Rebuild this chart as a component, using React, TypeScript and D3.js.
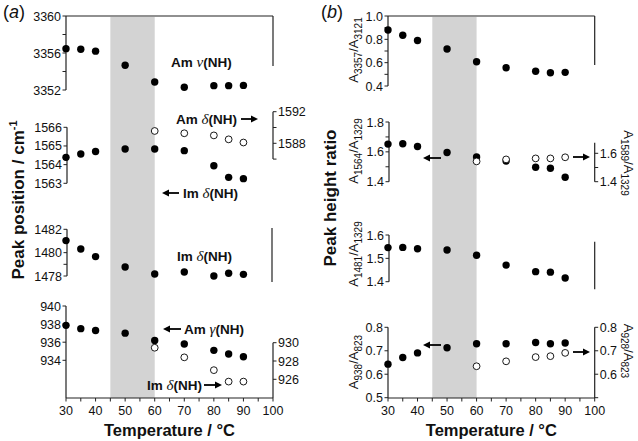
import React from "react";
import * as d3 from "d3";

// ---------- data ----------
const temps = [30, 35, 40, 50, 60, 70, 80, 85, 90];
const tempsOpen = [60, 70, 80, 85, 90];

// panel (a)
const amNuNH = [3356.47, 3356.4, 3356.2, 3354.67, 3352.86, 3352.3, 3352.47, 3352.47, 3352.5];
const imDeltaNH1564 = [1564.39, 1564.57, 1564.7, 1564.84, 1564.84, 1564.75, 1563.94, 1563.32, 1563.25];
const amDeltaNH1589 = [1589.56, 1589.27, 1589.0, 1588.5, 1588.1];
const imDeltaNH1480 = [1481.03, 1480.31, 1479.66, 1478.77, 1478.17, 1478.34, 1478.0, 1478.23, 1478.14];
const amGammaNH = [937.86, 937.5, 937.3, 937.0, 936.2, 935.8, 935.1, 934.7, 934.4];
const imDeltaNH928 = [929.45, 928.4, 927.0, 925.75, 925.75];

// panel (b)
const ratio3357 = [0.88, 0.835, 0.79, 0.717, 0.608, 0.557, 0.526, 0.514, 0.517];
const ratio1564 = [1.652, 1.654, 1.636, 1.596, 1.566, 1.539, 1.497, 1.49, 1.43];
const ratio1589 = [1.543, 1.557, 1.564, 1.564, 1.572];
const ratio1481 = [1.546, 1.547, 1.541, 1.536, 1.513, 1.471, 1.443, 1.441, 1.416];
const ratio938 = [0.643, 0.671, 0.691, 0.713, 0.73, 0.73, 0.735, 0.73, 0.733];
const ratio928 = [0.634, 0.655, 0.673, 0.677, 0.691];

const xTicks = [30, 35, 40, 45, 50, 55, 60, 65, 70, 75, 80, 85, 90, 95, 100];
const xTickLabels = [30, 40, 50, 60, 70, 80, 90, 100];
const shadeRange = [45, 60];

const FONT = "'Liberation Sans', Arial, Helvetica, sans-serif";
const SERIF = "'Liberation Serif', 'Times New Roman', serif";
const AX = "#222";

// ---------- scales ----------
const xA = d3.scaleLinear().domain([30, 100]).range([66, 273]);
const xB = d3.scaleLinear().domain([30, 100]).range([388, 594.7]);

const yA1 = d3.scaleLinear().domain([3352, 3360]).range([90, 16]);
const yA2L = d3.scaleLinear().domain([1563, 1566]).range([183.3, 127.3]);
const yA2R = d3.scaleLinear().domain([1588, 1592]).range([143.3, 111.7]);
const yA3 = d3.scaleLinear().domain([1478, 1482]).range([276, 229.3]);
const yA4L = d3.scaleLinear().domain([934, 940]).range([360.3, 306]);
const yA4R = d3.scaleLinear().domain([926, 930]).range([379.3, 342.7]);

const yB1 = d3.scaleLinear().domain([0.4, 1.0]).range([86, 16]);
const yB2L = d3.scaleLinear().domain([1.4, 1.8]).range([181.7, 122]);
const yB2R = d3.scaleLinear().domain([1.4, 1.6]).range([181.7, 153.3]);
const yB3 = d3.scaleLinear().domain([1.4, 1.6]).range([281.7, 235]);
const yB4 = d3.scaleLinear().domain([0.5, 0.8]).range([397.7, 327.3]);

const BOTTOM = 398;

type Scale = d3.ScaleLinear<number, number>;

function VAxis(props: {
  x: number;
  scale: Scale;
  from: number;
  to: number;
  ticks: number[];
  labels: number[];
  side: "left" | "right";
  fmt?: (v: number) => string;
  y1?: number;
  y2?: number;
}) {
  const { x, scale, from, to, ticks, labels, side } = props;
  const fmt = props.fmt || ((v: number) => String(v));
  const dir = side === "left" ? -1 : 1;
  const y1 = props.y1 !== undefined ? props.y1 : scale(from);
  const y2 = props.y2 !== undefined ? props.y2 : scale(to);
  return (
    <g>
      <line x1={x} x2={x} y1={y1} y2={y2} stroke={AX} strokeWidth={1.2} />
      {ticks.map((t) => (
        <line key={"t" + t} x1={x} x2={x + dir * 3.5} y1={scale(t)} y2={scale(t)} stroke={AX} strokeWidth={1} />
      ))}
      {labels.map((t) => (
        <text
          key={"l" + t}
          x={x + dir * 5}
          y={scale(t)}
          dy="0.36em"
          textAnchor={side === "left" ? "end" : "start"}
          fontSize={12.5}
          fontFamily={FONT}
          fill="#111"
        >
          {fmt(t)}
        </text>
      ))}
    </g>
  );
}

function XAxis({ scale }: { scale: Scale }) {
  const [a, b] = scale.range();
  return (
    <g>
      <line x1={a} x2={b} y1={BOTTOM} y2={BOTTOM} stroke={AX} strokeWidth={1.2} />
      {xTicks.map((t) => (
        <line key={t} x1={scale(t)} x2={scale(t)} y1={BOTTOM} y2={BOTTOM + 3.5} stroke={AX} strokeWidth={1} />
      ))}
      {xTickLabels.map((t) => (
        <text key={"l" + t} x={scale(t)} y={414.5} textAnchor="middle" fontSize={12.5} fontFamily={FONT} fill="#111">
          {t}
        </text>
      ))}
      <text
        x={(a + b) / 2}
        y={436}
        textAnchor="middle"
        fontSize={16.5}
        fontWeight="bold"
        fontFamily={FONT}
        fill="#111"
      >
        Temperature / °C
      </text>
    </g>
  );
}

function Dots(props: { xs: number[]; ys: number[]; x: Scale; y: Scale; open?: boolean }) {
  const { xs, ys, x, y, open } = props;
  return (
    <g>
      {xs.map((t, i) => (
        <circle
          key={i}
          cx={x(t)}
          cy={y(ys[i])}
          r={open ? 3.4 : 3.7}
          fill={open ? "#fff" : "#000"}
          stroke="#000"
          strokeWidth={open ? 0.9 : 0}
        />
      ))}
    </g>
  );
}

function Arrow({ x1, x2, y }: { x1: number; x2: number; y: number }) {
  const dir = x2 > x1 ? 1 : -1;
  const head = 7;
  return (
    <g>
      <line x1={x1} x2={x2 - dir * head * 0.6} y1={y} y2={y} stroke="#000" strokeWidth={1.8} />
      <path d={`M${x2},${y} L${x2 - dir * head},${y - 3.6} L${x2 - dir * head},${y + 3.6} Z`} fill="#000" />
    </g>
  );
}

function Label({ x, y, pre, greek, anchor }: { x: number; y: number; pre: string; greek: string; anchor?: string }) {
  return (
    <text
      x={x}
      y={y}
      dy="0.36em"
      textAnchor={anchor || "start"}
      fontSize={13.5}
      fontWeight="bold"
      fontFamily={FONT}
      fill="#111"
    >
      {pre + " "}
      <tspan fontFamily={SERIF} fontStyle="italic" fontWeight="normal" fontSize={15}>
        {greek}
      </tspan>
      (NH)
    </text>
  );
}

function RatioLabel({ x, y, a, b, rot }: { x: number; y: number; a: string; b: string; rot: number }) {
  return (
    <text
      transform={`translate(${x},${y}) rotate(${rot})`}
      textAnchor="middle"
      fontSize={13}
      fontFamily={FONT}
      fill="#111"
    >
      A
      <tspan fontSize={10} dy={3.5}>
        {a}
      </tspan>
      <tspan dy={-3.5}>/A</tspan>
      <tspan fontSize={10} dy={3.5}>
        {b}
      </tspan>
    </text>
  );
}

export default function App() {
  const range = (a: number, b: number, s: number) => d3.range(a, b + s / 2, s).map((v) => +v.toFixed(3));
  const f1 = (v: number) => v.toFixed(1);
  return (
    <svg width={638} height={441} style={{ position: "absolute", left: 0, top: 0, background: "#fff" }}>
      <rect x={0} y={0} width={638} height={441} fill="#fff" />

      {/* shading */}
      <rect x={xA(shadeRange[0])} y={17} width={xA(shadeRange[1]) - xA(shadeRange[0])} height={BOTTOM - 17} fill="#d3d3d3" />
      <rect x={xB(shadeRange[0])} y={17} width={xB(shadeRange[1]) - xB(shadeRange[0])} height={BOTTOM - 17} fill="#d3d3d3" />

      {/* ===== panel (a) ===== */}
      <text x={3} y={18} fontSize={18} fontFamily={FONT} fill="#111">
        (<tspan fontStyle="italic">a</tspan>)
      </text>
      <text
        transform="translate(24,200) rotate(-90)"
        textAnchor="middle"
        fontSize={17}
        fontWeight="bold"
        fontFamily={FONT}
        fill="#111"
      >
        Peak position / cm
        <tspan fontSize={11} dy={-7}>
          -1
        </tspan>
      </text>

      {/* a1 */}
      <VAxis x={66} scale={yA1} from={3360} to={3352} ticks={range(3352, 3360, 2)} labels={[3360, 3356, 3352]} side="left" />
      <line x1={66} x2={273} y1={16} y2={16} stroke={AX} strokeWidth={1.2} />
      <line x1={273} x2={273} y1={16} y2={66} stroke={AX} strokeWidth={1.2} />
      <Dots xs={temps} ys={amNuNH} x={xA} y={yA1} />
      <Label x={171} y={62} pre="Am" greek="ν" />

      {/* a2 */}
      <VAxis x={67} scale={yA2L} from={1566} to={1563} ticks={range(1563, 1566, 1)} labels={[1566, 1565, 1564, 1563]} side="left" />
      <VAxis x={273} scale={yA2R} from={1592} to={1586} ticks={range(1586, 1592, 2)} labels={[1592, 1588]} side="right" />
      <Dots xs={tempsOpen} ys={amDeltaNH1589} x={xA} y={yA2R} open />
      <Dots xs={temps} ys={imDeltaNH1564} x={xA} y={yA2L} />
      <Label x={176} y={119} pre="Am" greek="δ" />
      <Arrow x1={241} x2={258} y={119} />
      <Arrow x1={179} x2={162} y={193} />
      <Label x={183} y={193} pre="Im" greek="δ" />

      {/* a3 */}
      <VAxis x={67} scale={yA3} from={1482} to={1478} ticks={range(1478, 1482, 1)} labels={[1482, 1480, 1478]} side="left" />
      <line x1={272} x2={272} y1={228} y2={282} stroke={AX} strokeWidth={1.2} />
      <Dots xs={temps} ys={imDeltaNH1480} x={xA} y={yA3} />
      <Label x={177} y={256} pre="Im" greek="δ" />

      {/* a4 */}
      <VAxis x={66} scale={yA4L} from={940} to={934} y2={BOTTOM} ticks={range(934, 940, 2)} labels={[940, 938, 936, 934]} side="left" />
      <VAxis x={273} scale={yA4R} from={930} to={926} y2={BOTTOM} ticks={range(926, 930, 2)} labels={[930, 928, 926]} side="right" />
      <XAxis scale={xA} />
      <Dots xs={tempsOpen} ys={imDeltaNH928} x={xA} y={yA4R} open />
      <Dots xs={temps} ys={amGammaNH} x={xA} y={yA4L} />
      <Arrow x1={181} x2={163} y={329} />
      <Label x={184} y={329} pre="Am" greek="γ" />
      <Label x={147} y={385} pre="Im" greek="δ" />
      <Arrow x1={204} x2={222} y={385} />

      {/* ===== panel (b) ===== */}
      <text x={321} y={18} fontSize={18} fontFamily={FONT} fill="#111">
        (<tspan fontStyle="italic">b</tspan>)
      </text>
      <text
        transform="translate(336,198) rotate(-90)"
        textAnchor="middle"
        fontSize={17}
        fontWeight="bold"
        fontFamily={FONT}
        fill="#111"
      >
        Peak height ratio
      </text>

      {/* b1 */}
      <VAxis x={388} scale={yB1} from={1.0} to={0.4} ticks={range(0.4, 1.0, 0.1)} labels={[1.0, 0.8, 0.6, 0.4]} side="left" fmt={f1} />
      <line x1={388} x2={594.7} y1={16} y2={16} stroke={AX} strokeWidth={1.2} />
      <line x1={594.7} x2={594.7} y1={16} y2={65} stroke={AX} strokeWidth={1.2} />
      <Dots xs={temps} ys={ratio3357} x={xB} y={yB1} />
      <RatioLabel x={358} y={50} a="3357" b="3121" rot={-90} />

      {/* b2 */}
      <VAxis x={389} scale={yB2L} from={1.8} to={1.4} ticks={range(1.4, 1.8, 0.1)} labels={[1.8, 1.6, 1.4]} side="left" fmt={f1} />
      <VAxis x={594.7} scale={yB2R} from={1.675} to={1.4} ticks={[1.4, 1.5, 1.6]} labels={[1.6, 1.4]} side="right" fmt={f1} />
      <Dots xs={temps} ys={ratio1564} x={xB} y={yB2L} />
      <Dots xs={tempsOpen} ys={ratio1589} x={xB} y={yB2R} open />
      <RatioLabel x={358} y={151} a="1564" b="1329" rot={-90} />
      <RatioLabel x={624} y={163} a="1589" b="1329" rot={90} />
      <Arrow x1={441} x2={423} y={158} />
      <Arrow x1={573} x2={590} y={157} />

      {/* b3 */}
      <VAxis x={389} scale={yB3} from={1.6} to={1.4} ticks={range(1.4, 1.6, 0.1)} labels={[1.6, 1.5, 1.4]} side="left" fmt={f1} />
      <line x1={594.7} x2={594.7} y1={241.7} y2={289.3} stroke={AX} strokeWidth={1.2} />
      <Dots xs={temps} ys={ratio1481} x={xB} y={yB3} />
      <RatioLabel x={358} y={254} a="1481" b="1329" rot={-90} />

      {/* b4 */}
      <VAxis x={388} scale={yB4} from={0.8} to={0.5} y2={BOTTOM} ticks={range(0.5, 0.8, 0.1)} labels={[0.8, 0.7, 0.6, 0.5]} side="left" fmt={f1} />
      <VAxis x={594.7} scale={yB4} from={0.8} to={0.5} y2={BOTTOM} ticks={range(0.5, 0.8, 0.1)} labels={[0.8, 0.7, 0.6]} side="right" fmt={f1} />
      <XAxis scale={xB} />
      <Dots xs={temps} ys={ratio938} x={xB} y={yB4} />
      <Dots xs={tempsOpen} ys={ratio928} x={xB} y={yB4} open />
      <RatioLabel x={358} y={362} a="938" b="823" rot={-90} />
      <RatioLabel x={624} y={351} a="928" b="823" rot={90} />
      <Arrow x1={441} x2={423} y={345} />
      <Arrow x1={573} x2={590} y={352} />
    </svg>
  );
}
